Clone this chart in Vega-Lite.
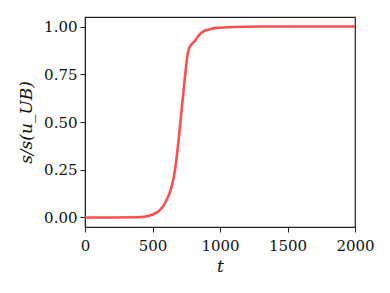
{
  "$schema": "https://vega.github.io/schema/vega-lite/v6.json",
  "autosize": "none",
  "width": 270,
  "height": 210,
  "padding": {"left": 85, "top": 17, "right": 35, "bottom": 66},
  "background": "white",
  "config": {
    "view": {"stroke": "#222222", "strokeWidth": 1.2},
    "axis": {
      "grid": false,
      "domainColor": "#222222",
      "tickColor": "#222222",
      "labelFont": "DejaVu Serif",
      "titleFont": "DejaVu Serif",
      "labelFontSize": 15,
      "titleFontSize": 17,
      "labelColor": "#111111",
      "titleColor": "#111111",
      "titleFontWeight": "normal",
      "tickSize": 5,
      "labelFlush": false,
      "labelOverlap": false
    }
  },
  "data": {
    "values": [
      {"t": 0, "s": 0},
      {"t": 200, "s": 0},
      {"t": 383, "s": 0.001},
      {"t": 450, "s": 0.005},
      {"t": 494, "s": 0.014},
      {"t": 530, "s": 0.025},
      {"t": 556, "s": 0.04},
      {"t": 582, "s": 0.062},
      {"t": 605, "s": 0.093},
      {"t": 625, "s": 0.125},
      {"t": 642, "s": 0.163},
      {"t": 667, "s": 0.25},
      {"t": 691, "s": 0.39},
      {"t": 716, "s": 0.565},
      {"t": 741, "s": 0.74},
      {"t": 758, "s": 0.845},
      {"t": 770, "s": 0.885},
      {"t": 785, "s": 0.903},
      {"t": 815, "s": 0.925},
      {"t": 845, "s": 0.955},
      {"t": 877, "s": 0.975},
      {"t": 920, "s": 0.985},
      {"t": 975, "s": 0.993},
      {"t": 1099, "s": 0.998},
      {"t": 1300, "s": 1.0},
      {"t": 2000, "s": 1.0}
    ]
  },
  "mark": {"type": "line", "color": "#ff4444", "strokeWidth": 2.6, "opacity": 0.95, "interpolate": "monotone"},
  "encoding": {
    "x": {
      "field": "t", "type": "quantitative",
      "scale": {"domain": [0, 2000], "nice": false},
      "axis": {"values": [0, 500, 1000, 1500, 2000], "format": "d", "title": "t", "titleFontStyle": "italic", "titlePadding": 5, "labelPadding": 6}
    },
    "y": {
      "field": "s", "type": "quantitative",
      "scale": {"domain": [-0.05, 1.05], "nice": false, "zero": false},
      "axis": {"values": [0, 0.25, 0.5, 0.75, 1.0], "format": ".2f", "title": "s/s(u_UB)", "titleFontStyle": "italic", "titlePadding": 8, "labelPadding": 3}
    }
  }
}
